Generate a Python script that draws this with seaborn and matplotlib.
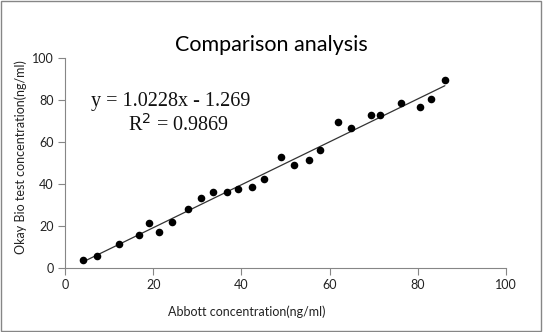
import matplotlib
matplotlib.use("Agg")
import matplotlib.pyplot as plt
import seaborn as sns
import numpy as np
import pandas as pd

# Measured concentrations (ng/ml)
abbott = [4.1, 7.2, 12.2, 16.7, 19.1, 21.4, 24.3, 27.9, 30.8, 33.5, 36.8, 39.3, 42.4,
          45.1, 49.0, 51.9, 55.2, 57.7, 61.9, 64.9, 69.3, 71.4, 76.2, 80.4, 83.0, 86.1]
okay_bio = [3.7, 5.9, 11.4, 15.9, 21.3, 17.0, 21.7, 27.9, 33.2, 36.2, 36.2, 37.8, 38.7,
            42.5, 52.9, 49.2, 51.4, 56.3, 69.7, 66.7, 72.7, 72.7, 78.4, 76.8, 80.5, 89.7]

# Linear trendline coefficients
slope = 1.0228
intercept = -1.269
r_squared = 0.9869

ticks = [0, 20, 40, 60, 80, 100]

sns.set_theme(style="white")
plt.rcParams["font.family"] = ["Lato", "DejaVu Sans"]

fig = plt.figure(figsize=(5.43, 3.32), dpi=100)
ax = fig.add_axes([0.1197, 0.1928, 0.8125, 0.6325])

df = pd.DataFrame({"x": abbott, "y": okay_bio})
trend_x = [min(abbott), max(abbott)]
trend = pd.DataFrame({"x": trend_x, "y": [slope * v + intercept for v in trend_x]})

sns.lineplot(data=trend, x="x", y="y", ax=ax, color="#333333", linewidth=0.9)
sns.scatterplot(data=df, x="x", y="y", ax=ax, color="black", s=30, edgecolor="black",
                linewidth=0, zorder=3)

ax.set_xlim(0, 100)
ax.set_ylim(0, 100)
ax.set_xticks(ticks)
ax.set_yticks(ticks)
ax.tick_params(axis="both", length=5, width=0.8, color="#868686", labelsize=9,
               labelcolor="#222222", direction="out", bottom=True, left=True, pad=3)
for side in ["top", "right"]:
    ax.spines[side].set_visible(False)
for side in ["left", "bottom"]:
    ax.spines[side].set_color("#868686")
    ax.spines[side].set_linewidth(0.8)

ax.set_xlabel("Abbott concentration(ng/ml)", fontsize=9, color="#222222")
ax.set_ylabel("Okay Bio test concentration(ng/ml)", fontsize=9, color="#222222")
ax.xaxis.set_label_coords(0.413, -0.18)
ax.yaxis.set_label_coords(-0.085, 0.526)

fig.text(0.5, 0.865, "Comparison analysis", ha="center", va="center", fontsize=15.5,
         color="black")

serif = ["Liberation Serif", "DejaVu Serif"]
ax.text(5.9, 79.2, f"y = {slope}x - {abs(intercept)}", fontsize=14.5,
        family=serif, va="center", ha="left", color="#111111")
ax.text(14.3, 68, f"R$^2$ = {r_squared}", fontsize=14.5,
        family=serif, va="center", ha="left", color="#111111")

# Chart frame
fig.patches.append(plt.Rectangle((0.002, 0.003), 0.995, 0.994, transform=fig.transFigure,
                                 fill=False, edgecolor="#868686", linewidth=1.0))

fig.savefig("out.png", dpi=100)
